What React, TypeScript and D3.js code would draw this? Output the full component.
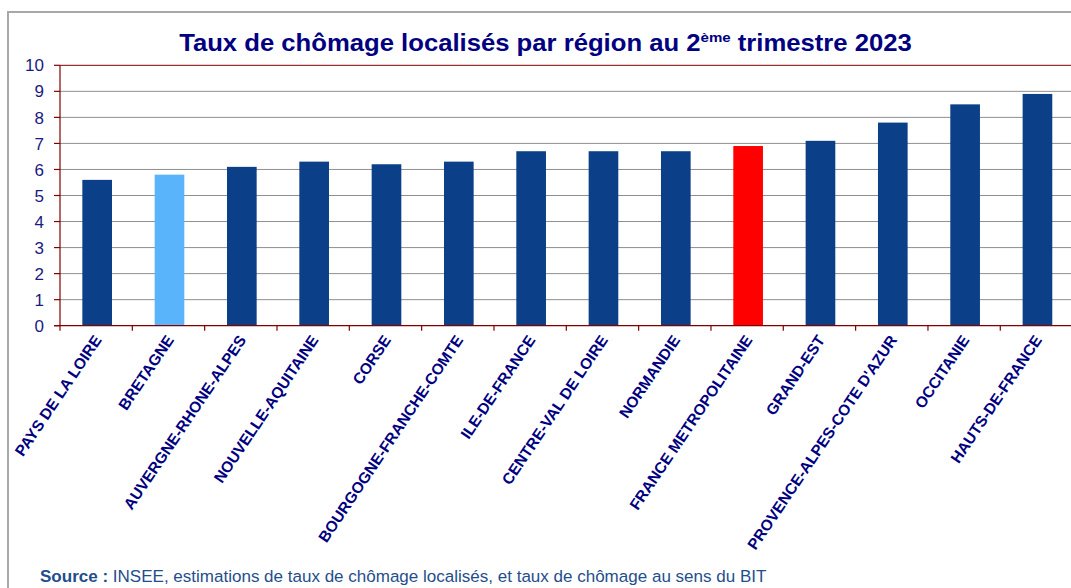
import React, { useLayoutEffect, useRef } from "react";
import * as d3 from "d3";

const categories = [
  "PAYS DE LA LOIRE",
  "BRETAGNE",
  "AUVERGNE-RHONE-ALPES",
  "NOUVELLE-AQUITAINE",
  "CORSE",
  "BOURGOGNE-FRANCHE-COMTE",
  "ILE-DE-FRANCE",
  "CENTRE-VAL DE LOIRE",
  "NORMANDIE",
  "FRANCE METROPOLITAINE",
  "GRAND-EST",
  "PROVENCE-ALPES-COTE D'AZUR",
  "OCCITANIE",
  "HAUTS-DE-FRANCE",
];
const values = [5.6, 5.8, 6.1, 6.3, 6.2, 6.3, 6.7, 6.7, 6.7, 6.9, 7.1, 7.8, 8.5, 8.9];
const highlightLight = ["BRETAGNE"];
const highlightRed = ["FRANCE METROPOLITAINE"];
const yTicks = [0, 1, 2, 3, 4, 5, 6, 7, 8, 9, 10];

const W = 1071;
const H = 588;
const FONT = "'Liberation Sans', Arial, Helvetica, sans-serif";

export default function App() {
  const titleRef = useRef<SVGTextElement>(null);
  const sourceRef = useRef<SVGTextElement>(null);

  const plotLeft = 60;
  const band = 72.33;
  const x = d3
    .scaleBand<string>()
    .domain(categories)
    .range([plotLeft, plotLeft + band * categories.length])
    .padding(0);
  const y = d3.scaleLinear().domain([0, 10]).range([325.7, 65.3]);
  const barW = x.bandwidth() * 0.41;

  useLayoutEffect(() => {
    const t = titleRef.current;
    if (t) {
      const len = t.getComputedTextLength();
      if (len > 0) {
        const s = 733 / len;
        t.setAttribute("transform", `translate(545.5,0) scale(${s},1) translate(-545.5,0)`);
      }
    }
    const src = sourceRef.current;
    if (src) {
      const len = src.getComputedTextLength();
      if (len > 0) {
        const s = 727 / len;
        src.setAttribute("transform", `translate(40,0) scale(${s},1) translate(-40,0)`);
      }
    }
  }, []);

  const color = (c: string) =>
    highlightRed.includes(c) ? "#ff0000" : highlightLight.includes(c) ? "#5ab4fb" : "#0b3f88";

  const ticksX = d3.range(categories.length + 1).map((i) => plotLeft + i * band);

  return (
    <svg width={W} height={H} style={{ position: "absolute", left: 0, top: 0, background: "#fff" }}>
      <rect x={0} y={0} width={W} height={H} fill="#fff" />
      {/* outer frame */}
      <rect x={8} y={12} width={W + 20} height={H + 20} fill="none" stroke="#a8a8a8" strokeWidth={2} />

      {/* title */}
      <text
        ref={titleRef}
        x={545.5}
        y={51}
        textAnchor="middle"
        fontFamily={FONT}
        fontWeight="bold"
        fontSize={23}
        fill="#000080"
      >
        Taux de chômage localisés par région au 2
        <tspan fontSize={13.5} dy={-8.5}>ème</tspan>
        <tspan dy={8.5}> trimestre 2023</tspan>
      </text>

      {/* gridlines */}
      {yTicks.slice(1, -1).map((t) => (
        <line key={t} x1={plotLeft} x2={W + 10} y1={y(t)} y2={y(t)} stroke="#8f8f8f" strokeWidth={1} />
      ))}
      <line x1={plotLeft} x2={W + 10} y1={y(10)} y2={y(10)} stroke="#800000" strokeWidth={1} />

      {/* bars */}
      {categories.map((c, i) => (
        <rect
          key={c}
          x={(x(c) as number) + x.bandwidth() / 2 - barW / 2 + 1}
          y={y(values[i])}
          width={barW}
          height={y(0) - y(values[i])}
          fill={color(c)}
        />
      ))}

      {/* axes */}
      <line x1={plotLeft} x2={plotLeft} y1={y(10)} y2={y(0)} stroke="#800000" strokeWidth={1.2} />
      <line x1={plotLeft - 6} x2={W + 10} y1={y(0)} y2={y(0)} stroke="#800000" strokeWidth={1.2} />
      {yTicks.map((t) => (
        <g key={t}>
          <line x1={plotLeft - 6} x2={plotLeft} y1={y(t)} y2={y(t)} stroke="#800000" strokeWidth={1.2} />
          <text
            x={44}
            y={y(t)}
            dy="0.36em"
            textAnchor="end"
            fontFamily={FONT}
            fontSize={17}
            fill="#1a1a80"
          >
            {t}
          </text>
        </g>
      ))}
      {ticksX.map((tx, i) => (
        <line key={i} x1={tx} x2={tx} y1={y(0)} y2={y(0) + 5} stroke="#800000" strokeWidth={1.2} />
      ))}

      {/* category labels */}
      {categories.map((c) => {
        const cx = (x(c) as number) + x.bandwidth() / 2;
        return (
          <text
            key={c}
            transform={`translate(${cx + 6},${340}) rotate(-56)`}
            textAnchor="end"
            fontFamily={FONT}
            fontWeight="bold"
            fontSize={15.5}
            fill="#000080"
          >
            {c}
          </text>
        );
      })}

      {/* source */}
      <text ref={sourceRef} x={40} y={582.5} fontFamily={FONT} fontSize={17} fill="#1f4e8c">
        <tspan fontWeight="bold">Source :</tspan>
        <tspan> INSEE, estimations de taux de chômage localisés, et taux de chômage au sens du BIT</tspan>
      </text>
    </svg>
  );
}
